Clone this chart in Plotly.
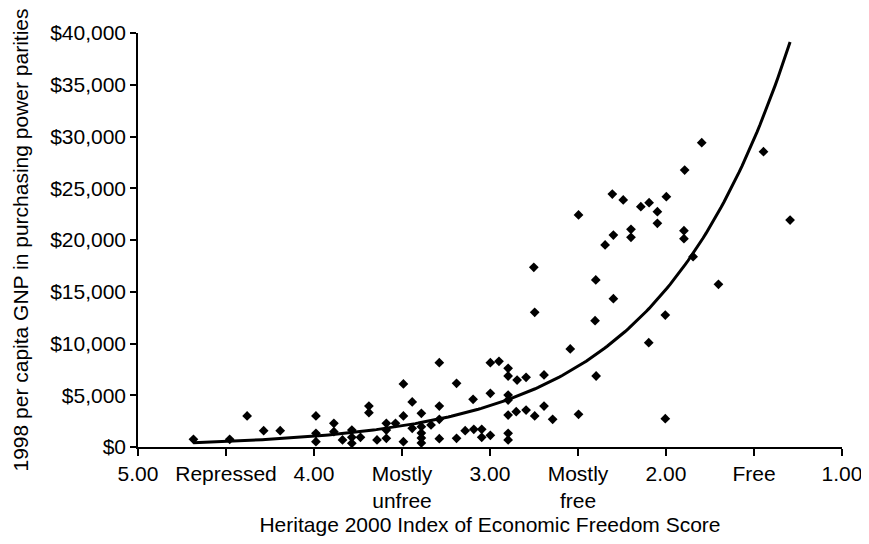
import numpy as np
import plotly.graph_objects as go

# Heritage 2000 Index of Economic Freedom score (x) and 1998 per capita GNP PPP (y)
freedom_score = [
    4.685, 4.479, 4.380, 4.286, 4.192, 3.989, 3.989, 3.989, 3.887, 3.887,
    3.838, 3.785, 3.785, 3.785, 3.736, 3.688, 3.688, 3.642, 3.589, 3.589,
    3.589, 3.537, 3.492, 3.492, 3.492, 3.442, 3.442, 3.390, 3.390, 3.390,
    3.390, 3.390, 3.335, 3.288, 3.288, 3.288, 3.288, 3.190, 3.190, 3.141,
    3.096, 3.092, 3.047, 3.047, 2.998, 2.998, 2.998, 2.949, 2.897, 2.897,
    2.897, 2.897, 2.897, 2.897, 2.897, 2.846, 2.795, 2.851, 2.795, 2.746,
    2.693, 2.693, 2.644, 2.544, 2.497, 2.497, 2.751, 2.746, 2.399, 2.299,
    2.403, 2.397, 2.004, 2.098, 2.004, 2.305, 2.243, 2.143, 2.096, 1.998,
    2.049, 2.049, 2.199, 2.199, 2.299, 2.346, 1.797, 1.894, 1.898, 1.898,
    1.846, 1.702, 1.446, 1.295,
]
gnp_ppp = [
    744, 744, 3000, 1575, 1575, 3000, 1320, 510, 2290, 1480,
    680, 1640, 935, 355, 935, 3960, 3310, 680, 2290, 1640,
    840, 2290, 6090, 3000, 510, 4350, 1800, 3250, 1960, 1350,
    870, 390, 2130, 8150, 3960, 2670, 800, 6150, 840, 1575,
    4610, 1710, 1710, 935, 5190, 1130, 8150, 8280, 7600, 6860,
    5020, 4540, 3090, 1320, 680, 6470, 6730, 3410, 3570, 3000,
    6960, 3960, 2670, 9470, 3160, 22420, 17360, 13010, 16140, 14330,
    12200, 6860, 12750, 10080, 2730, 24440, 23870, 23220, 23600, 24180,
    22740, 21610, 21030, 20260, 20480, 19520, 29400, 26760, 20900, 20130,
    18390, 15720, 28530, 21930,
]

tick_values = [5.0, 4.5, 4.0, 3.5, 3.0, 2.5, 2.0, 1.5, 1.0]
tick_labels = ["5.00", "Repressed", "4.00", "Mostly<br>unfree", "3.00",
               "Mostly<br>free", "2.00", "Free", "1.00"]

x = np.array(freedom_score)
y = np.array(gnp_ppp)

# Exponential trendline (least squares on log y), spanning the data range
b, ln_a = np.polyfit(x, np.log(y), 1)
xt = np.linspace(x.max(), x.min(), 200)
yt = np.exp(ln_a + b * xt)

FONT = "Liberation Sans, Arial, Helvetica, sans-serif"

fig = go.Figure()
fig.add_trace(go.Scatter(
    x=x, y=y, mode="markers",
    marker=dict(symbol="diamond", size=7.5, color="black", line=dict(width=0)),
    showlegend=False, hoverinfo="x+y",
))
fig.add_trace(go.Scatter(
    x=xt, y=yt, mode="lines",
    line=dict(color="black", width=3),
    showlegend=False, hoverinfo="skip",
))

# the page body adds an 8px margin, so the figure is sized to fit inside it
fig.update_layout(
    width=856, height=528,
    margin=dict(l=130, r=22, t=25, b=89),
    paper_bgcolor="white", plot_bgcolor="white",
    font=dict(family=FONT, size=21, color="black"),
    xaxis=dict(
        range=[5, 1], tickmode="array", tickvals=tick_values, ticktext=tick_labels,
        showgrid=False, zeroline=False, showline=True, linecolor="black", linewidth=1.5,
        ticks="outside", ticklen=7, tickwidth=1.5, tickcolor="black",
        automargin=False, ticklabeloverflow="allow",
        title=dict(text="Heritage 2000 Index of Economic Freedom Score", standoff=10,
                   font=dict(size=21)),
        tickfont=dict(size=21),
    ),
    yaxis=dict(
        range=[0, 40000], dtick=5000, tickprefix="$", tickformat=",",
        showgrid=False, zeroline=False, showline=True, linecolor="black", linewidth=1.5,
        ticks="outside", ticklen=6, tickwidth=1.5, tickcolor="black",
        automargin=False,
        title=dict(text="1998 per capita GNP in purchasing power parities", standoff=16,
                   font=dict(size=21)),
        tickfont=dict(size=21),
    ),
)

fig.write_html("out.html")
